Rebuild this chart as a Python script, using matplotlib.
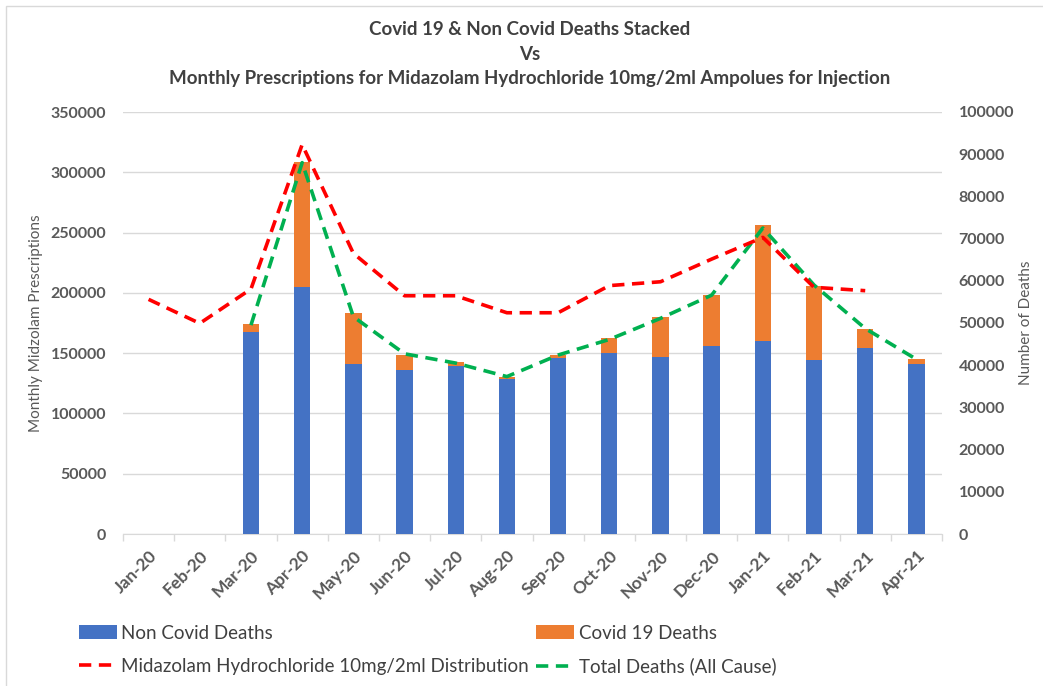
import numpy as np
import matplotlib
matplotlib.use("Agg")
import matplotlib.pyplot as plt
from matplotlib.patches import Rectangle
from matplotlib.ticker import MultipleLocator

# -----------------------------
# Data
# -----------------------------
months = ["Jan-20", "Feb-20", "Mar-20", "Apr-20", "May-20", "Jun-20", "Jul-20", "Aug-20",
          "Sep-20", "Oct-20", "Nov-20", "Dec-20", "Jan-21", "Feb-21", "Mar-21", "Apr-21"]
non_covid = [np.nan, np.nan, 47900, 58600, 40300, 38900, 39700, 36800,
             41700, 42900, 41900, 44600, 45800, 41200, 44100, 40400]
covid = [np.nan, np.nan, 1800, 29500, 12100, 3550, 1100, 330,
         650, 3480, 9480, 12000, 27500, 17500, 4400, 1000]
total_deaths = [np.nan, np.nan, 49500, 88000, 51500, 42700, 40500, 37300,
                42400, 46100, 51100, 56600, 72500, 59000, 48700, 41400]
midazolam = [194600, 174700, 203200, 323000, 232800, 197600, 197600, 183500,
             183500, 206000, 209200, 228000, 246000, 204600, 201800, np.nan]

# -----------------------------
# Style
# -----------------------------
plt.rcParams["font.family"] = ["Lato", "DejaVu Sans"]
GREY = "#595959"
BLUE = "#4472c4"
ORANGE = "#ed7d31"
RED = "#ff0000"
GREEN = "#00b050"

fig = plt.figure(figsize=(10.43, 6.86), dpi=100)
ax = fig.add_axes([123 / 1043, 1 - 534 / 686, 819 / 1043, 422 / 686])
ax2 = ax.twinx()   # deaths (bars + total)
ax3 = ax.twinx()   # midazolam line, same scale as left axis
ax.set_zorder(1)
ax2.set_zorder(2)
ax3.set_zorder(3)
for a in (ax2, ax3):
    a.patch.set_visible(False)

x = np.arange(len(months))

# -----------------------------
# Bars and lines
# -----------------------------
b_non = ax2.bar(x, non_covid, width=0.32, color=BLUE, label="Non Covid Deaths")
b_cov = ax2.bar(x, covid, width=0.32, bottom=non_covid, color=ORANGE, label="Covid 19 Deaths")
l_tot, = ax2.plot(x, total_deaths, color=GREEN, lw=2.6, dashes=(3.4, 2.1),
                  label="Total Deaths (All Cause)")
l_mid, = ax3.plot(x, midazolam, color=RED, lw=2.6, dashes=(3.4, 2.1),
                  label="Midazolam Hydrochloride 10mg/2ml Distribution")

# -----------------------------
# Axes
# -----------------------------
ax.set_xlim(-0.5, len(months) - 0.5)
ax.set_ylim(0, 350000)
ax3.set_ylim(0, 350000)
ax2.set_ylim(0, 100000)
ax.yaxis.set_major_locator(MultipleLocator(50000))
ax2.yaxis.set_major_locator(MultipleLocator(10000))

ax.grid(axis="y", color="#d9d9d9", lw=1)
ax.set_axisbelow(True)

for a in (ax, ax2, ax3):
    for s in a.spines.values():
        s.set_visible(False)
ax.spines["bottom"].set_visible(True)
ax.spines["bottom"].set_color("#d9d9d9")

ax.set_xticks(x)
ax.set_xticklabels(months, rotation=45, ha="right", rotation_mode="anchor")
ax.set_xticks(np.arange(-0.5, len(months)), minor=True)
ax.tick_params(axis="x", which="major", length=0, pad=10, labelsize=12.5, labelcolor=GREY)
ax.tick_params(axis="x", which="minor", length=5, color="#d9d9d9", width=1)
for t in ax.get_xticklabels():
    t.set_fontweight("bold")

ax.tick_params(axis="y", length=0, pad=12, labelsize=11.5, labelcolor=GREY)
ax2.tick_params(axis="y", length=0, pad=12, labelsize=11.5, labelcolor=GREY)
for t in ax.get_yticklabels() + ax2.get_yticklabels():
    t.set_fontweight("bold")
ax3.set_yticks([])

ax.set_ylabel("Monthly Midzolam Prescriptions", fontsize=11, color=GREY)
ax.yaxis.set_label_coords(-0.098, 0.5)
ax2.set_ylabel("Number of Deaths", fontsize=11, color=GREY, rotation=90)
ax2.yaxis.set_label_coords(1.094, 0.5)

# -----------------------------
# Title
# -----------------------------
fig.text(530 / 1043, 1 - 54 / 686,
         "Covid 19 & Non Covid Deaths Stacked\nVs\n"
         "Monthly Prescriptions for Midazolam Hydrochloride 10mg/2ml Ampolues for Injection",
         ha="center", va="center", fontsize=13.5, fontweight="bold", color="#404040",
         linespacing=1.55)

# -----------------------------
# Legend
# -----------------------------
handles = [b_non, l_mid, b_cov, l_tot]
labels = [h.get_label() for h in handles]
fig.legend(handles, labels, ncol=2, loc="center left",
           bbox_to_anchor=(79 / 1043, 1 - 650 / 686), frameon=False,
           fontsize=13.5, labelcolor="#404040", handlelength=2.0, handleheight=0.7,
           handletextpad=0.25, columnspacing=0.4, labelspacing=0.85, borderpad=0,
           borderaxespad=0)

# chart border
fig.patches.append(Rectangle((6 / 1043, -0.01), 1.02, 1 - 6 / 686 + 0.01,
                             transform=fig.transFigure, fill=False,
                             edgecolor="#d9d9d9", lw=1))

fig.savefig("out.png", dpi=100)
